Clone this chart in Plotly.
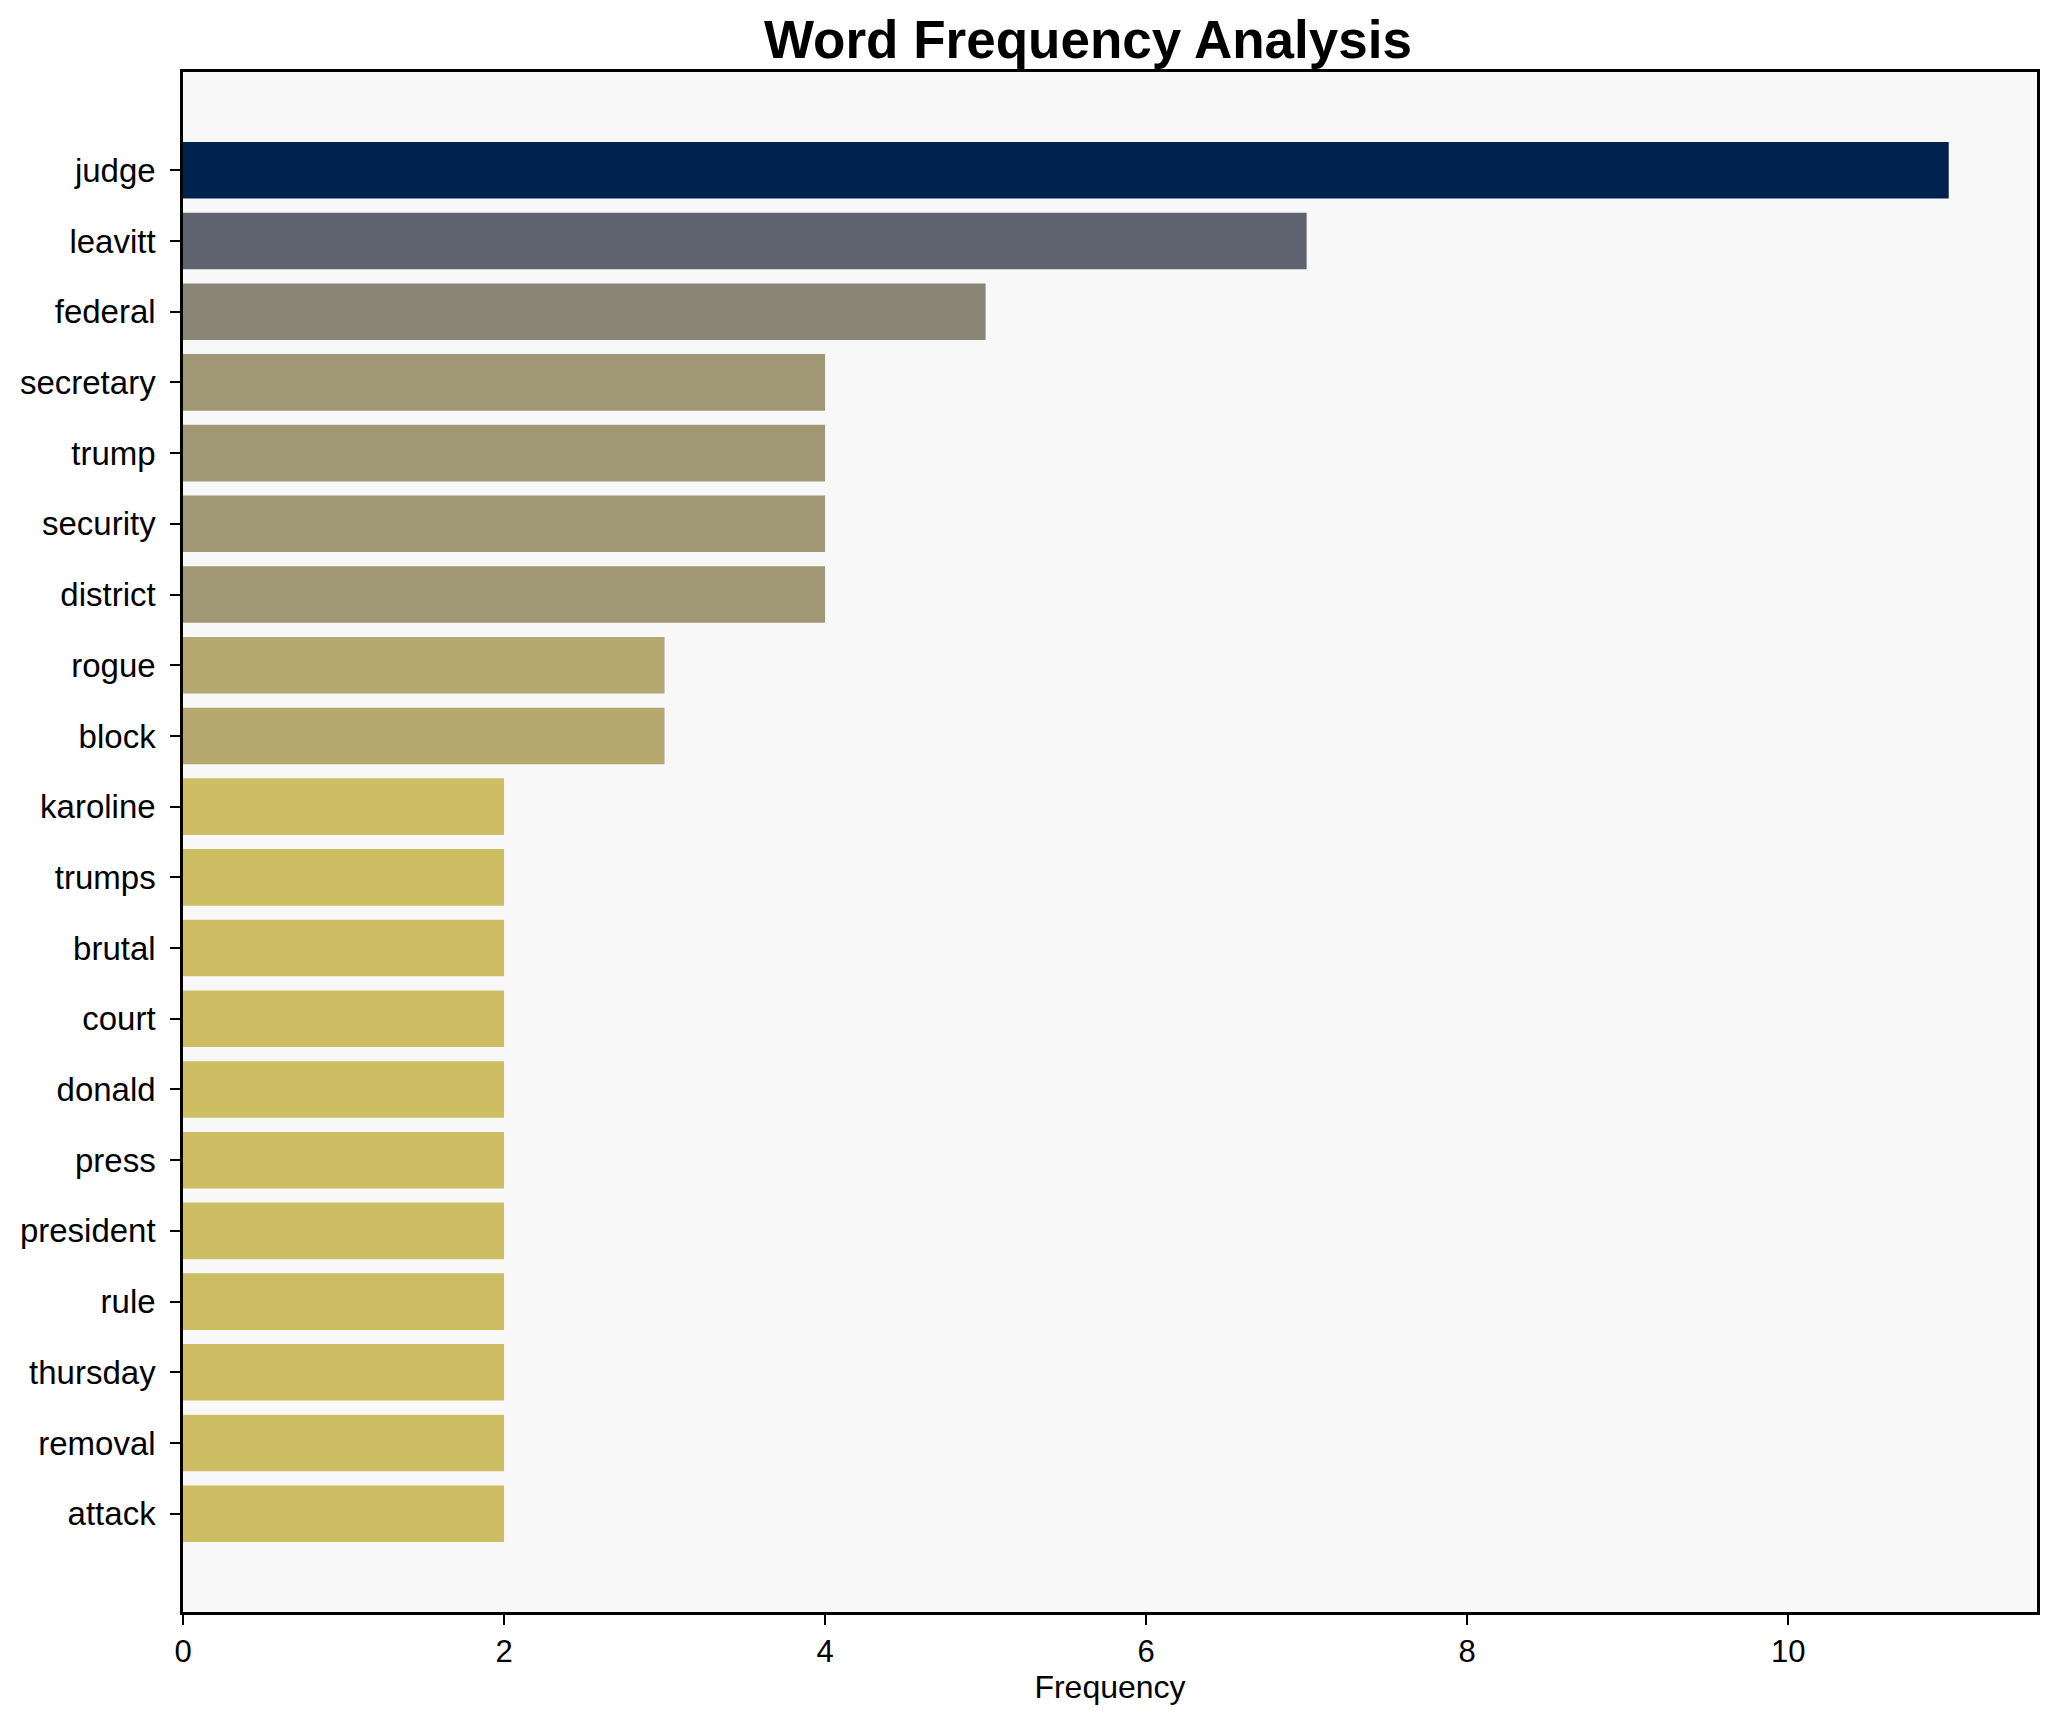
import plotly.graph_objects as go

words = ["judge", "leavitt", "federal", "secretary", "trump", "security", "district",
         "rogue", "block", "karoline", "trumps", "brutal", "court", "donald", "press",
         "president", "rule", "thursday", "removal", "attack"]
counts = [11, 7, 5, 4, 4, 4, 4, 3, 3, 2, 2, 2, 2, 2, 2, 2, 2, 2, 2, 2]

color_by_count = {11: "#00224e", 7: "#5f6370", 5: "#898677", 4: "#a09775",
                  3: "#b5a96f", 2: "#cdbe64"}
bar_colors = [color_by_count[c] for c in counts]

fig = go.Figure(go.Bar(
    x=counts, y=words, orientation="h",
    marker=dict(color=bar_colors, line=dict(width=0)),
))

W, H = 2048, 1714
n = len(words)
pad = (n - 1 + 0.8) * 0.05
fig.update_layout(
    width=W, height=H,
    margin=dict(l=169, r=19, t=64, b=110),
    paper_bgcolor="white", plot_bgcolor="#f8f8f8",
    bargap=0.2,
    showlegend=False,
    font=dict(family="Liberation Sans, Arial, sans-serif", color="black"),
    title=dict(text="<b>Word Frequency Analysis</b>", x=1080 / W, xanchor="center",
               y=1 - 31 / H, yanchor="middle",
               font=dict(size=53, family="Liberation Sans, Arial, sans-serif", color="black")),
    xaxis=dict(
        range=[0, max(counts) * 1.05], tickvals=[0, 2, 4, 6, 8, 10],
        ticks="outside", ticklen=10, tickwidth=2, tickcolor="black",
        tickfont=dict(size=31), showgrid=False, zeroline=False,
        showline=True, linecolor="black", linewidth=2.5, mirror=True,
        title=dict(text="Frequency", font=dict(size=32), standoff=8),
    ),
    yaxis=dict(
        type="category", categoryorder="array", categoryarray=words,
        range=[n - 1 + 0.4 + pad, -0.4 - pad],
        ticks="outside", ticklen=10, tickwidth=2, tickcolor="black",
        tickfont=dict(size=33), showgrid=False, zeroline=False,
        showline=True, linecolor="black", linewidth=2.5, mirror=True,
        ticklabelstandoff=8,
    ),
)

fig.write_html("out.html")
